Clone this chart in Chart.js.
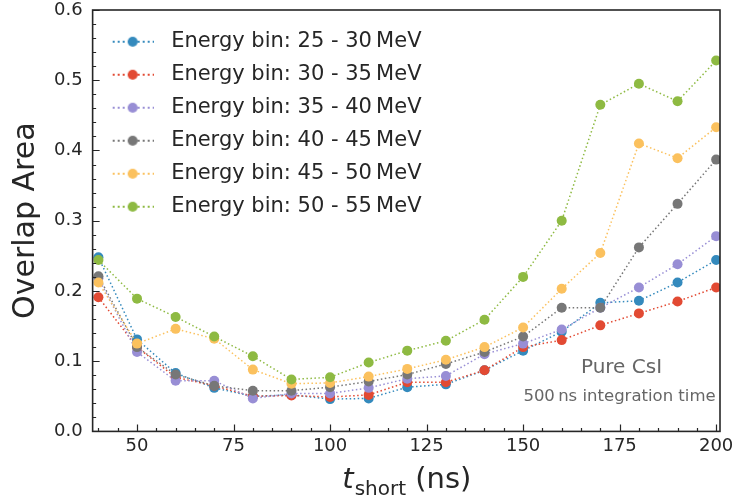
<!DOCTYPE html>
<html>
<head>
<meta charset="utf-8">
<script src="https://cdn.jsdelivr.net/npm/chart.js@4.4.1/dist/chart.umd.min.js"></script>
<style>
  html, body { margin: 0; padding: 0; background: #fff; }
</style>
</head>
<body>
<canvas id="myChart" width="734" height="504"></canvas>
<script>
// t_short values (ns)
var tShort = [40, 50, 60, 70, 80, 90, 100, 110, 120, 130, 140, 150, 160, 170, 180, 190, 200];

// overlap area per energy bin
var bin25to30 = [0.248, 0.131, 0.083, 0.062, 0.050, 0.052, 0.046, 0.047, 0.063, 0.067, 0.087, 0.115, 0.142, 0.183, 0.186, 0.212, 0.244];
var bin30to35 = [0.191, 0.120, 0.077, 0.065, 0.050, 0.051, 0.049, 0.052, 0.070, 0.070, 0.087, 0.120, 0.130, 0.151, 0.168, 0.185, 0.205];
var bin35to40 = [0.218, 0.113, 0.072, 0.072, 0.047, 0.054, 0.054, 0.062, 0.075, 0.079, 0.110, 0.125, 0.145, 0.176, 0.205, 0.238, 0.278];
var bin40to45 = [0.221, 0.120, 0.081, 0.065, 0.058, 0.058, 0.063, 0.071, 0.081, 0.096, 0.113, 0.135, 0.176, 0.176, 0.262, 0.324, 0.387];
var bin45to50 = [0.212, 0.125, 0.146, 0.132, 0.088, 0.068, 0.069, 0.078, 0.089, 0.102, 0.120, 0.148, 0.203, 0.254, 0.410, 0.389, 0.433];
var bin50to55 = [0.244, 0.189, 0.163, 0.135, 0.107, 0.074, 0.077, 0.098, 0.115, 0.129, 0.159, 0.220, 0.300, 0.465, 0.495, 0.470, 0.528];

var seriesNames = [
  'Energy bin: 25 - 30\u2009MeV',
  'Energy bin: 30 - 35\u2009MeV',
  'Energy bin: 35 - 40\u2009MeV',
  'Energy bin: 40 - 45\u2009MeV',
  'Energy bin: 45 - 50\u2009MeV',
  'Energy bin: 50 - 55\u2009MeV'
];
var seriesValues = [bin25to30, bin30to35, bin35to40, bin40to45, bin45to50, bin50to55];
var colors = ['#348ABD', '#E24A33', '#988ED5', '#777777', '#FBC15E', '#8EBA42'];

var xTicks = [50, 75, 100, 125, 150, 175, 200];
var yTicks = [0.0, 0.1, 0.2, 0.3, 0.4, 0.5, 0.6];

var FONT = 'DejaVu Sans';
var TEXT = '#262626';

// legend swatch: dotted line with a marker in the middle
function swatch(color) {
  var c = document.createElement('canvas');
  c.width = 42; c.height = 12;
  var g = c.getContext('2d');
  g.strokeStyle = color;
  g.lineWidth = 2;
  g.setLineDash([2, 3]);
  g.beginPath(); g.moveTo(1, 6); g.lineTo(42, 6); g.stroke();
  g.fillStyle = color;
  g.beginPath(); g.arc(21, 6, 5, 0, Math.PI * 2); g.fill();
  return c;
}

var datasets = seriesValues.map(function (vals, i) {
  return {
    label: seriesNames[i],
    data: vals.map(function (v, j) { return { x: tShort[j], y: v }; }),
    borderColor: colors[i],
    backgroundColor: colors[i],
    borderWidth: 1.5,
    borderDash: [1.5, 2.5],
    borderCapStyle: 'butt',
    pointRadius: 5,
    pointHoverRadius: 5,
    pointBorderWidth: 0,
    pointBackgroundColor: colors[i],
    tension: 0,
    fill: false,
    order: seriesValues.length - i
  };
});

// frame, inward ticks, x title with subscript, annotation
var decor = {
  id: 'decor',
  afterDatasetsDraw: function (chart) {
    var ctx = chart.ctx, a = chart.chartArea;
    var xs = chart.scales.x, ys = chart.scales.y;
    ctx.save();
    ctx.strokeStyle = TEXT;
    ctx.lineWidth = 1.2;
    ctx.beginPath();
    var v, p;
    for (v = 40; v <= 200; v += 5) {
      p = Math.round(xs.getPixelForValue(v)) + 0.5;
      var len = (v % 25 === 0) ? 7 : 3.5;
      ctx.moveTo(p, a.bottom); ctx.lineTo(p, a.bottom - len);
    }
    for (var k = 0; k <= 30; k++) {
      v = k * 0.02;
      p = Math.round(ys.getPixelForValue(v)) + 0.5;
      var l2 = (k % 5 === 0) ? 7 : 3.5;
      ctx.moveTo(a.left, p); ctx.lineTo(a.left + l2, p);
    }
    ctx.stroke();
    ctx.lineWidth = 1.6;
    ctx.strokeRect(a.left, a.top, a.right - a.left, a.bottom - a.top);

    // x axis title: t_short (ns)
    var base = a.bottom + 57;
    ctx.fillStyle = TEXT;
    ctx.textBaseline = 'alphabetic';
    ctx.textAlign = 'left';
    ctx.font = 'oblique 29px "' + FONT + '"';
    var w1 = ctx.measureText('t').width;
    ctx.font = '20px "' + FONT + '"';
    var w2 = ctx.measureText('short').width;
    ctx.font = '29px "' + FONT + '"';
    var w3 = ctx.measureText(' (ns)').width;
    var x0 = (a.left + a.right) / 2 - (w1 + w2 + w3) / 2;
    ctx.font = 'oblique 29px "' + FONT + '"';
    ctx.fillText('t', x0, base);
    ctx.font = '20px "' + FONT + '"';
    ctx.fillText('short', x0 + w1 + 1, base + 7);
    ctx.font = '29px "' + FONT + '"';
    ctx.fillText(' (ns)', x0 + w1 + 1 + w2, base);

    // annotation
    ctx.fillStyle = '#666666';
    ctx.textAlign = 'center';
    ctx.textBaseline = 'middle';
    var cx = a.left + 0.843 * (a.right - a.left);
    ctx.font = '20px "' + FONT + '"';
    ctx.fillText('Pure CsI', cx, a.top + 0.848 * (a.bottom - a.top));
    ctx.font = '16.5px "' + FONT + '"';
    ctx.fillText('500\u2009ns integration time', cx - 2, a.top + 0.917 * (a.bottom - a.top));
    ctx.restore();
  }
};

var ctx = document.getElementById('myChart').getContext('2d');
var chart = new Chart(ctx, {
  type: 'line',
  data: { datasets: datasets },
  options: {
    responsive: false,
    animation: false,
    devicePixelRatio: 1,
    layout: { padding: { left: 0, right: 14, top: 10, bottom: 43 } },
    plugins: {
      tooltip: { enabled: false },
      legend: {
        position: 'chartArea',
        align: 'start',
        title: { display: true, text: '', font: { size: 1 }, padding: { top: 18, bottom: 0 } },
        labels: {
          usePointStyle: true,
          pointStyleWidth: 56,
          boxHeight: 12,
          padding: 12,
          color: TEXT,
          font: { family: FONT, size: 21 },
          sort: function (a, b) { return a.datasetIndex - b.datasetIndex; },
          generateLabels: function (chart) {
            var items = Chart.defaults.plugins.legend.labels.generateLabels(chart);
            items.forEach(function (it) { it.pointStyle = swatch(colors[it.datasetIndex]); });
            return items;
          }
        }
      }
    },
    scales: {
      x: {
        type: 'linear',
        min: 38.5,
        max: 201,
        afterBuildTicks: function (s) { s.ticks = xTicks.map(function (v) { return { value: v }; }); },
        afterFit: function (s) { s.paddingLeft = 0; s.paddingRight = 0; },
        grid: { display: false, drawTicks: false },
        border: { display: false },
        ticks: { color: TEXT, font: { family: FONT, size: 18 }, padding: 4, maxRotation: 0, autoSkip: false }
      },
      y: {
        min: 0,
        max: 0.6,
        afterBuildTicks: function (s) { s.ticks = yTicks.map(function (v) { return { value: v }; }); },
        afterFit: function (s) { s.paddingTop = 0; s.paddingBottom = 0; },
        grid: { display: false, drawTicks: false },
        border: { display: false },
        ticks: {
          color: TEXT, font: { family: FONT, size: 18 }, padding: 10, autoSkip: false,
          callback: function (v) { return Number(v).toFixed(1); }
        },
        title: {
          display: true, text: 'Overlap Area', color: TEXT,
          font: { family: FONT, size: 30 }, padding: { top: 8, bottom: 0 }
        }
      }
    }
  },
  plugins: [decor]
});
</script>
</body>
</html>
